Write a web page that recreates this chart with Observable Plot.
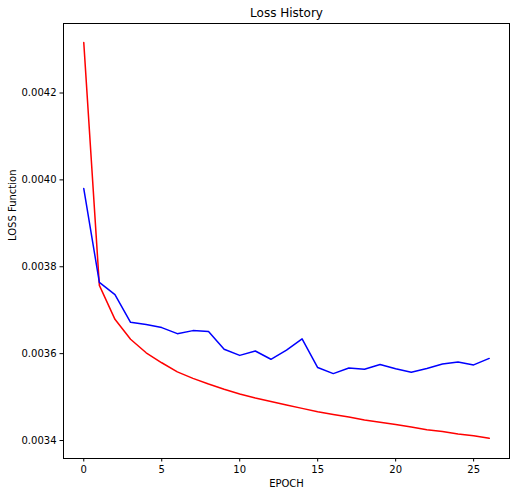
<!DOCTYPE html>
<html><head><meta charset="utf-8">
<script src="https://cdn.jsdelivr.net/npm/d3@7"></script>
<script src="https://cdn.jsdelivr.net/npm/@observablehq/plot@0.6"></script>
<style>html,body{margin:0;padding:0;background:#fff}</style>
</head><body><div id="chart"></div>
<script>
const epochs = [0,1,2,3,4,5,6,7,8,9,10,11,12,13,14,15,16,17,18,19,20,21,22,23,24,25,26];
const redLoss = [0.004316,0.003757,0.003679,0.003633,0.003602,0.003579,0.003558,0.003543,0.003530,0.003518,0.003507,0.003498,0.003490,0.003482,0.003474,0.003466,0.003460,0.003454,0.003447,0.003442,0.003437,0.003431,0.003425,0.003421,0.003415,0.003411,0.003405];
const blueLoss = [0.003980,0.003764,0.003736,0.003672,0.003667,0.003660,0.003646,0.003653,0.003651,0.003610,0.003596,0.003606,0.003587,0.003608,0.003634,0.003568,0.003554,0.003567,0.003564,0.003575,0.003565,0.003557,0.003566,0.003576,0.003581,0.003574,0.003589];
const xTicks = [0,5,10,15,20,25];
const yTicks = [0.0034,0.0036,0.0038,0.0040,0.0042];

const red = epochs.map((e,i)=>({epoch:e, loss:redLoss[i]}));
const blue = epochs.map((e,i)=>({epoch:e, loss:blueLoss[i]}));

const plot = Plot.plot({
  width: 516, height: 496,
  marginLeft: 63, marginTop: 23, marginRight: 7, marginBottom: 38,
  style: {fontFamily: "DejaVu Sans", fontSize: "10px", color: "#000", background: "#fff"},
  x: {domain: [-1.3, 27.3]},
  y: {domain: [0.0033586, 0.004360]},
  marks: [
    Plot.axisX({ticks: xTicks, tickSize: 3.5, tickPadding: 3.5, label: null, tickFormat: d => String(d)}),
    Plot.axisY({ticks: yTicks, tickSize: 3.5, tickPadding: 3.5, label: null, tickFormat: d3.format(".4f")}),
    Plot.line(red, {x: "epoch", y: "loss", stroke: "red", strokeWidth: 1.5}),
    Plot.line(blue, {x: "epoch", y: "loss", stroke: "blue", strokeWidth: 1.5}),
    Plot.frame({stroke: "#000", strokeWidth: 1}),
    Plot.text(["Loss History"], {frameAnchor: "top", lineAnchor: "middle", dy: -10, fontSize: 12}),
    Plot.text(["EPOCH"], {frameAnchor: "bottom", lineAnchor: "middle", dy: 25, fontSize: 10}),
    Plot.text(["LOSS Function"], {frameAnchor: "left", lineAnchor: "middle", dx: -51, rotate: -90, fontSize: 10})
  ]
});
document.getElementById("chart").appendChild(plot);
</script>
</body></html>
